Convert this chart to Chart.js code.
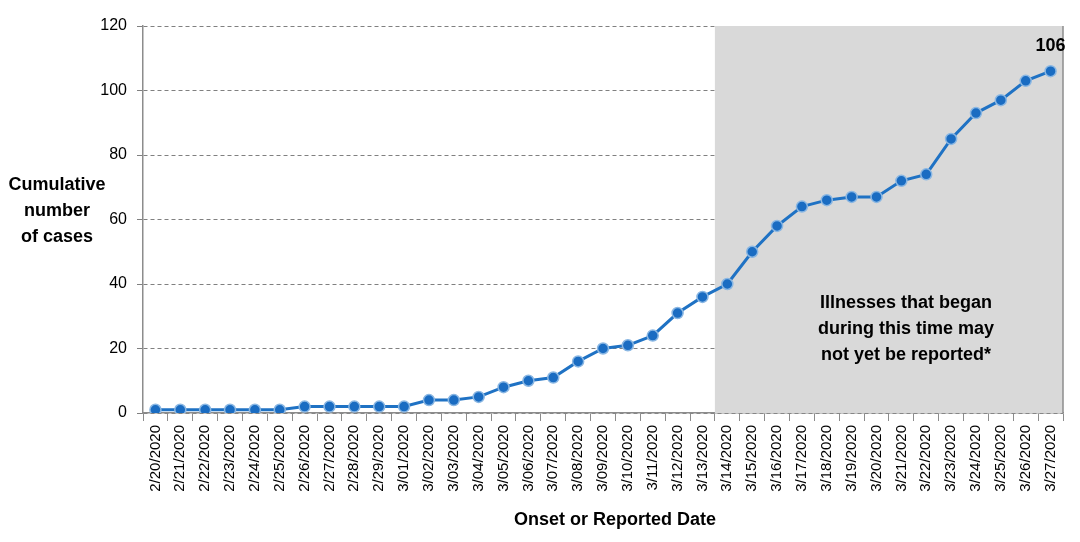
<!DOCTYPE html>
<html>
<head>
<meta charset="utf-8">
<script src="https://cdn.jsdelivr.net/npm/chart.js@4.4.1/dist/chart.umd.min.js"></script>
<style>
  html, body { margin: 0; padding: 0; background: #fff; }
  #wrap { width: 1080px; height: 542px; }
</style>
</head>
<body>
<div id="wrap"><canvas id="casesChart" width="1080" height="542"></canvas></div>
<script>
const dates = ['2/20/2020', '2/21/2020', '2/22/2020', '2/23/2020', '2/24/2020', '2/25/2020',
    '2/26/2020', '2/27/2020', '2/28/2020', '2/29/2020', '3/01/2020', '3/02/2020', '3/03/2020',
    '3/04/2020', '3/05/2020', '3/06/2020', '3/07/2020', '3/08/2020', '3/09/2020', '3/10/2020',
    '3/11/2020', '3/12/2020', '3/13/2020', '3/14/2020', '3/15/2020', '3/16/2020', '3/17/2020',
    '3/18/2020', '3/19/2020', '3/20/2020', '3/21/2020', '3/22/2020', '3/23/2020', '3/24/2020',
    '3/25/2020', '3/26/2020', '3/27/2020'];
const cumulativeCases = [1, 1, 1, 1, 1, 1, 2, 2, 2, 2, 2, 4, 4, 5, 8, 10, 11, 16, 20, 21, 24, 31, 36,
    40, 50, 58, 64, 66, 67, 67, 72, 74, 85, 93, 97, 103, 106];
const yTicks = [0, 20, 40, 60, 80, 100, 120];
const shadeStart = '3/14/2020';
const noteLines = ['Illnesses that began', 'during this time may', 'not yet be reported*'];
const yTitleLines = ['Cumulative', 'number', 'of cases'];
const xTitle = 'Onset or Reported Date';

const FONT = '"Liberation Sans", Arial, sans-serif';

// grey box behind the recent dates, drawn over the gridlines but under the line
const shadePlugin = {
    id: 'shade',
    beforeDatasetsDraw(chart) {
        const { ctx, chartArea, scales } = chart;
        const idx = dates.indexOf(shadeStart);
        const x0 = scales.x.getPixelForValue(idx) - (scales.x.getPixelForValue(1) - scales.x.getPixelForValue(0)) / 2;
        ctx.save();
        ctx.fillStyle = '#d9d9d9';
        ctx.fillRect(x0, chartArea.top, chartArea.right - x0, chartArea.bottom - chartArea.top);
        ctx.strokeStyle = '#8c8c8c';
        ctx.lineWidth = 1.5;
        ctx.beginPath();
        ctx.moveTo(chartArea.right, chartArea.top);
        ctx.lineTo(chartArea.right, chartArea.bottom);
        ctx.stroke();
        ctx.restore();
    }
};

const textPlugin = {
    id: 'texts',
    afterDraw(chart) {
        const { ctx, scales } = chart;
        ctx.save();
        ctx.fillStyle = '#000';
        ctx.textAlign = 'center';
        ctx.textBaseline = 'middle';
        ctx.font = 'bold 18px ' + FONT;
        yTitleLines.forEach((t, i) => ctx.fillText(t, 57, 185 + i * 26));
        ctx.fillText(xTitle, 615, 520);
        noteLines.forEach((t, i) => ctx.fillText(t, 906, 303 + i * 26));
        const last = cumulativeCases.length - 1;
        ctx.fillText(String(cumulativeCases[last]), scales.x.getPixelForValue(last), scales.y.getPixelForValue(cumulativeCases[last]) - 25);
        ctx.restore();
    }
};

new Chart(document.getElementById('casesChart'), {
    type: 'line',
    data: {
        labels: dates,
        datasets: [{
            label: 'Cumulative number of cases',
            data: cumulativeCases,
            borderColor: '#1f72c4',
            borderWidth: 3,
            pointRadius: 5.5,
            pointBorderWidth: 1.5,
            pointBackgroundColor: '#1a6cc2',
            pointBorderColor: '#8ab7e3',
            tension: 0
        }]
    },
    options: {
        responsive: false,
        animation: false,
        layout: { padding: { left: 0, right: 17, top: 26, bottom: 0 } },
        plugins: {
            legend: { display: false },
            tooltip: { enabled: false }
        },
        scales: {
            x: {
                offset: true,
                afterFit(scale) { scale.height = 129; },
                grid: {
                    offset: true,
                    drawOnChartArea: false,
                    drawTicks: true,
                    tickLength: 8,
                    color: '#8c8c8c'
                },
                border: { color: '#8c8c8c', width: 1.5 },
                ticks: {
                    autoSkip: false,
                    minRotation: 90,
                    maxRotation: 90,
                    padding: 4,
                    color: '#000',
                    font: { family: FONT, size: 15 }
                }
            },
            y: {
                min: 0,
                max: 120,
                afterFit(scale) { scale.width = 143; },
                afterBuildTicks(scale) { scale.ticks = yTicks.map(v => ({ value: v })); },
                grid: {
                    color: '#808080',
                    tickLength: 6,
                    lineWidth: 1
                },
                border: { color: '#8c8c8c', width: 1.5, dash: [4, 3] },
                ticks: {
                    padding: 10,
                    color: '#000',
                    font: { family: FONT, size: 16 }
                }
            }
        }
    },
    plugins: [shadePlugin, textPlugin]
});
</script>
</body>
</html>
